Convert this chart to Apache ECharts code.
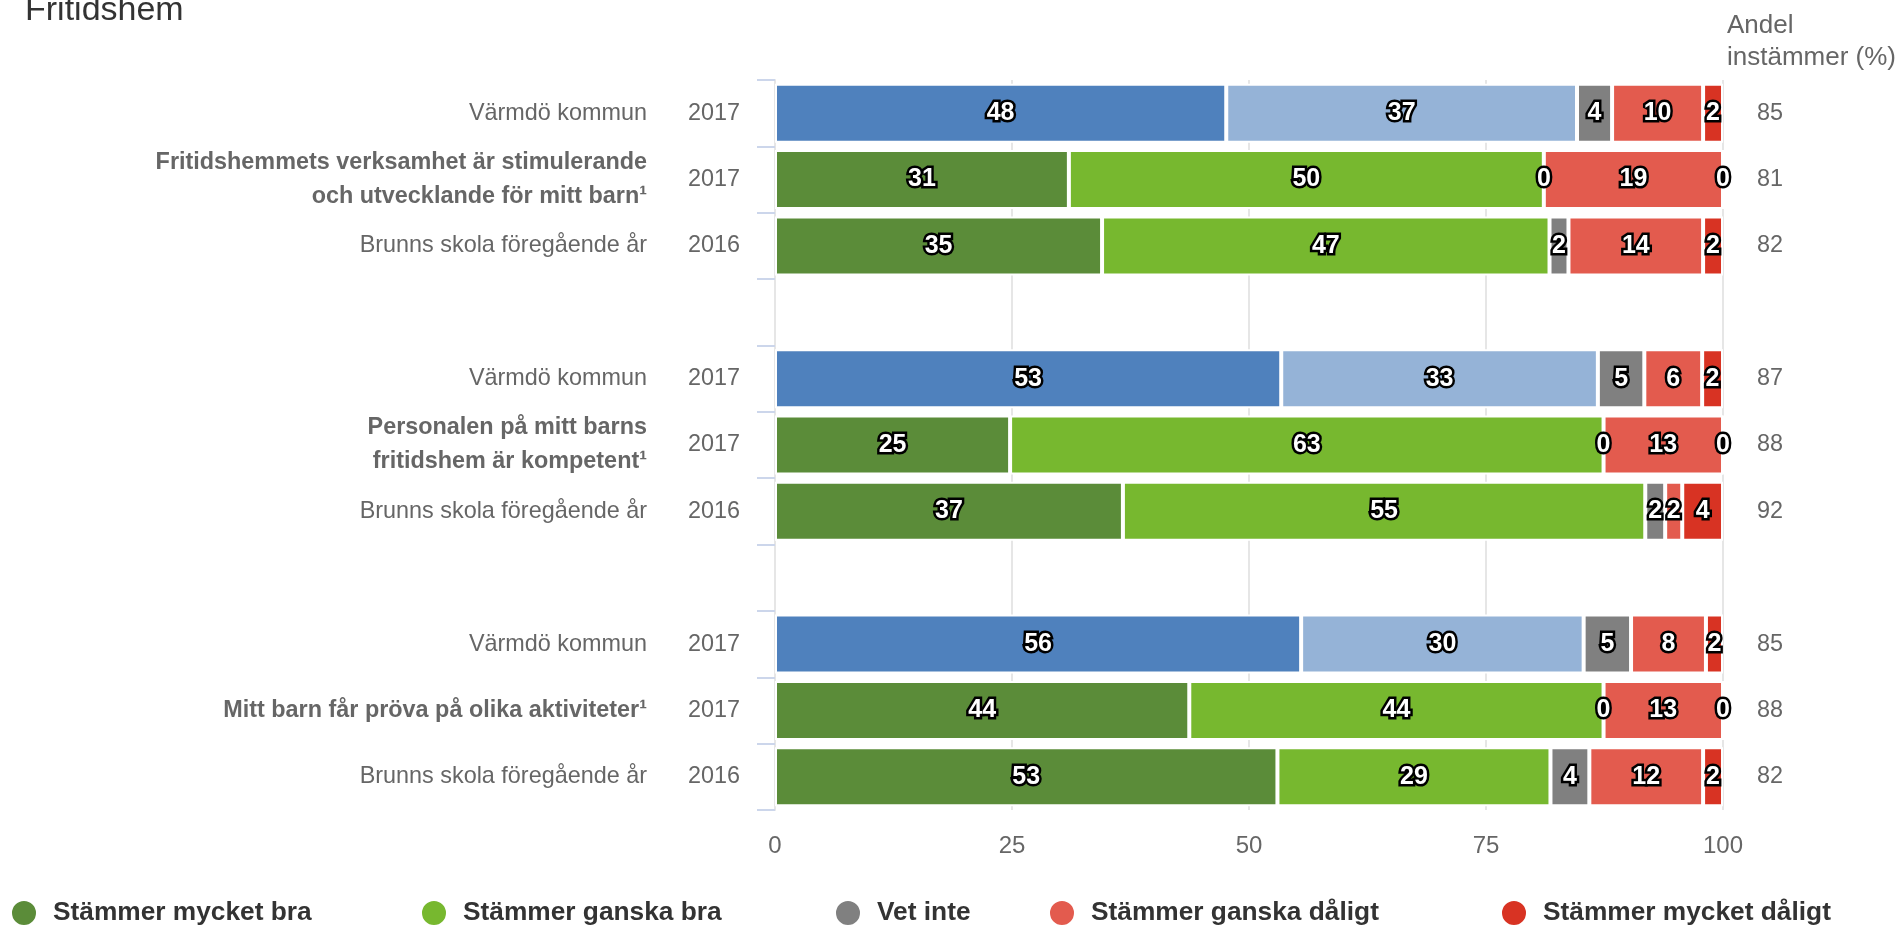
<!DOCTYPE html>
<html>
<head>
<meta charset="utf-8">
<script src="https://cdn.jsdelivr.net/npm/echarts@6/dist/echarts.min.js"></script>
<style>
html,body{margin:0;padding:0;background:#fff;}
#chart{width:1898px;height:929px;}
</style>
</head>
<body>
<div id="chart"></div>
<script>
// ---- data ----
const categories = [
  'Värmdö kommun',
  'Fritidshemmets verksamhet är stimulerande\noch utvecklande för mitt barn¹',
  'Brunns skola föregående år',
  '',
  'Värmdö kommun',
  'Personalen på mitt barns\nfritidshem är kompetent¹',
  'Brunns skola föregående år',
  '',
  'Värmdö kommun',
  'Mitt barn får pröva på olika aktiviteter¹',
  'Brunns skola föregående år'
];
const years = ['2017','2017','2016','','2017','2017','2016','','2017','2017','2016'];
const andelInstammer = ['85','81','82','','87','88','92','','85','88','82'];
const boldRows = [1,5,9];
const kommunRows = [0,4,8];

const seriesNames = ['Stämmer mycket bra','Stämmer ganska bra','Vet inte','Stämmer ganska dåligt','Stämmer mycket dåligt'];
const mycketBra    = [47.6, 31.0, 34.5, null, 53.4, 24.8, 36.7, null, 55.5, 43.7, 53.0];
const ganskaBra    = [37.0, 50.1, 47.2, null, 33.4, 62.6, 55.1, null, 29.8, 43.7, 28.8];
const vetInte      = [3.7,  0,    2.0,  null, 4.9,  0,    2.1,  null, 5.0,  0,    4.1];
const ganskaDaligt = [9.6,  18.9, 14.2, null, 6.1,  12.6, 1.8,  null, 7.9,  12.6, 12.0];
const mycketDaligt = [2.1,  0,    2.1,  null, 2.2,  0,    4.3,  null, 1.8,  0,    2.1];
const xTicks = [0, 25, 50, 75, 100];

// ---- styles ----
const colors = ['#5b8c39','#77b82f','#808080','#e35b4e','#d83323'];
const kommunColors = ['#4f81bd','#95b3d7'];
const FONT = "'Liberation Sans', Arial, sans-serif";
const allData = [mycketBra, ganskaBra, vetInte, ganskaDaligt, mycketDaligt];

const series = allData.map((arr, si) => ({
  name: seriesNames[si],
  type: 'bar',
  stack: 'total',
  yAxisIndex: 0,
  barWidth: 59,
  color: colors[si],
  itemStyle: { borderColor: '#ffffff', borderWidth: 2 },
  label: {
    show: true,
    position: 'inside',
    color: '#ffffff',
    fontFamily: FONT,
    fontWeight: 'bold',
    fontSize: 25,
    textBorderColor: '#000000',
    textBorderWidth: 5,
    formatter: p => (p.value == null ? '' : String(Math.round(p.value)))
  },
  data: arr.map((v, i) => {
    if (v == null) return '-';
    if (si < 2 && kommunRows.includes(i)) {
      return { value: v, itemStyle: { color: kommunColors[si] } };
    }
    return v;
  })
}));

const legendLefts = [10, 420, 834, 1048, 1500];
const legends = seriesNames.map((n, i) => ({
  data: [n],
  left: legendLefts[i],
  top: 899,
  padding: 0,
  icon: 'circle',
  itemWidth: 26,
  itemHeight: 26,
  selectedMode: false,
  textStyle: { fontFamily: FONT, fontSize: 26.3, fontWeight: 'bold', color: '#333333', padding: [0,0,0,11] }
}));

const chart = echarts.init(document.getElementById('chart'));
chart.setOption({
  animation: false,
  backgroundColor: '#ffffff',
  title: [
    { text: 'Fritidshem', left: 20, top: -11, textStyle: { fontFamily: FONT, fontSize: 34, fontWeight: 'normal', color: '#333333' } },
    { text: 'Andel\ninstämmer (%)', left: 1722, top: 5, textStyle: { fontFamily: FONT, fontSize: 26, fontWeight: 'normal', color: '#666666', lineHeight: 32 } }
  ],
  legend: legends,
  grid: { left: 775, right: 175, top: 80, bottom: 119, containLabel: false },
  xAxis: {
    type: 'value', min: 0, max: 100, interval: 25,
    axisLine: { show: false }, axisTick: { show: false },
    splitLine: { show: true, lineStyle: { color: '#e6e6e6', width: 2 } },
    axisLabel: { color: '#666666', fontFamily: FONT, fontSize: 24, margin: 24,
      formatter: v => xTicks.includes(v) ? String(v) : '' }
  },
  yAxis: [
    {
      type: 'category', data: categories, inverse: true, position: 'left',
      axisLine: { show: true, lineStyle: { color: '#e6e6e6', width: 2 } },
      axisTick: { show: true, length: 18, alignWithLabel: false, lineStyle: { color: '#ccd6eb', width: 2 } },
      axisLabel: {
        margin: 128, fontFamily: FONT, fontSize: 23.4, color: '#666666', interval: 0,
        formatter: (v, i) => v === '' ? '' : (boldRows.includes(i) ? '{b|' + v + '}' : '{n|' + v + '}'),
        rich: {
          n: { fontFamily: FONT, fontSize: 23.4, color: '#666666' },
          b: { fontFamily: FONT, fontSize: 23.4, color: '#666666', fontWeight: 'bold', lineHeight: 34, align: 'right' }
        }
      }
    },
    {
      type: 'category', data: years, inverse: true, position: 'left',
      axisLine: { show: false }, axisTick: { show: false },
      axisLabel: { margin: 35, fontFamily: FONT, fontSize: 23.4, color: '#666666', interval: 0 }
    },
    {
      type: 'category', data: andelInstammer, inverse: true, position: 'right',
      axisLine: { show: false }, axisTick: { show: false },
      axisLabel: { margin: 34, fontFamily: FONT, fontSize: 23.4, color: '#666666', interval: 0 }
    }
  ],
  series: series
});
</script>
</body>
</html>
